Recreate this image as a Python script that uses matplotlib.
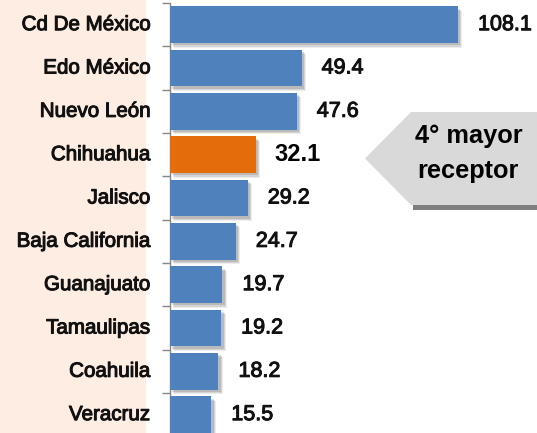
import matplotlib
matplotlib.use("Agg")
import matplotlib.pyplot as plt
from matplotlib.patches import Polygon, Rectangle
import matplotlib.patheffects as pe

categories = ["Cd De México", "Edo México", "Nuevo León", "Chihuahua", "Jalisco",
              "Baja California", "Guanajuato", "Tamaulipas", "Coahuila", "Veracruz"]
values = [108.1, 49.4, 47.6, 32.1, 29.2, 24.7, 19.7, 19.2, 18.2, 15.5]
highlight = "Chihuahua"
callout_lines = ["4° mayor", "receptor"]

W, H = 537, 433
fig = plt.figure(figsize=(W / 100, H / 100), dpi=100)
fig.patch.set_facecolor("white")

# pink label panel
fig.patches.append(Rectangle((0, 0), 146 / W, 1, transform=fig.transFigure,
                             facecolor="#FDEDE3", edgecolor="none", zorder=0))

ax_left = 170 / W
ax_top = 1 - 3 / H
step = 43.33
ax_h = step * len(categories) / H
ax = fig.add_axes([ax_left, ax_top - ax_h, 1 - ax_left, ax_h])
ax.set_facecolor("none")
ax.set_zorder(2)

n = len(categories)
ypos = list(range(n))
colors = ["#E46C0A" if c == highlight else "#4F81BD" for c in categories]
shadow = [pe.SimplePatchShadow(offset=(3.2, -3.2), shadow_rgbFace="#000000", alpha=0.07),
          pe.SimplePatchShadow(offset=(2.5, -2.5), shadow_rgbFace="#000000", alpha=0.10),
          pe.SimplePatchShadow(offset=(1.7, -1.7), shadow_rgbFace="#000000", alpha=0.12),
          pe.Normal()]
bars = ax.barh(ypos, values, height=0.85, color=colors, edgecolor="none", zorder=3)
for b in bars:
    b.set_path_effects(shadow)

ax.set_ylim(n - 0.5, -0.5)
ax.set_xlim(0, (W - 170) / 2.664)

for s in ["top", "right", "bottom"]:
    ax.spines[s].set_visible(False)
ax.spines["left"].set_color("#868686")
ax.spines["left"].set_linewidth(1.0)
ax.set_xticks([])
ax.set_yticks([i - 0.5 for i in range(n + 1)])
ax.set_yticklabels([])
ax.tick_params(axis="y", length=5.8, color="#868686", width=1.0, direction="out")

txt_col = "#111111"
semi = [pe.withStroke(linewidth=0.75, foreground=txt_col)]
for i, (c, v) in enumerate(zip(categories, values)):
    ax.annotate(c, xy=(0, i), xycoords=("axes fraction", "data"),
                xytext=(-14.4, 0), textcoords="offset points",
                ha="right", va="center", fontsize=14.8,
                family="Liberation Sans", weight="normal", color=txt_col,
                annotation_clip=False, path_effects=semi)
    if c == highlight:
        ax.annotate(f"{v:.1f}", xy=(v, i), xytext=(13.5, 0), textcoords="offset points",
                    ha="left", va="center", fontsize=17,
                    family="Liberation Sans", weight="bold",
                    color="#000000", annotation_clip=False)
    else:
        ax.annotate(f"{v:.1f}", xy=(v, i), xytext=(14.4, 0), textcoords="offset points",
                    ha="left", va="center", fontsize=15.5,
                    family="Liberation Sans", weight="normal",
                    color=txt_col, annotation_clip=False, path_effects=semi)

def fp(x, y):
    return (x / W, 1 - y / H)

pts = [fp(365, 158.5), fp(411, 112), fp(540, 112), fp(540, 205), fp(411, 205)]
fig.patches.append(Polygon([fp(413, 204), fp(540, 204), fp(540, 210), fp(413, 210)],
                           closed=True, transform=fig.transFigure,
                           facecolor="#7F7F7F", edgecolor="none", zorder=5))
fig.patches.append(Polygon(pts, closed=True, transform=fig.transFigure,
                           facecolor="#D9D9D9", edgecolor="none", zorder=6))
fig.text(469 / W, 1 - 136 / H, callout_lines[0], ha="center", va="center",
         fontsize=18.3, family="Liberation Sans", weight="bold", color="#000000", zorder=7)
fig.text(468 / W, 1 - 171 / H, callout_lines[1], ha="center", va="center",
         fontsize=18.3, family="Liberation Sans", weight="bold", color="#000000", zorder=7)

fig.savefig("out.png", dpi=100)
